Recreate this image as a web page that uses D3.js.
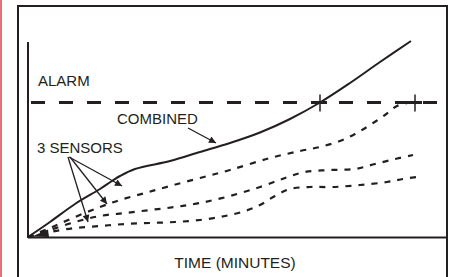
<!DOCTYPE html>
<html><head><meta charset="utf-8">
<script src="https://cdn.jsdelivr.net/npm/d3@7"></script>
<style>html,body{margin:0;padding:0;background:#fff;}svg{display:block;}</style>
</head><body>
<script>
// ---- data (time in minutes, signal in arbitrary units) ----
const combined = [[0,0],[2.2,1.5],[4.7,3.3],[7.2,4.8],[8.4,5.6],[9.2,6.1],[10.7,6.8],[14.2,7.6],[17.2,8.5],[20.2,9.4],[23.2,10.45],[26.2,11.8],[29.2,13.45],[32.2,15.4],[35.2,17.5],[38.3,19.6]];
const sensor1 = [[0,0],[2.2,0.9],[4.7,2.0],[7.2,3.0],[9.2,3.7],[11.7,4.4],[14.2,5.1],[17.2,5.9],[20.2,6.7],[24.2,7.9],[27.2,8.6],[29.2,9.0],[31.2,9.6],[32.7,10.3],[34.2,11.2],[35.7,12.2],[36.9,13.1],[38.5,13.5]];
const sensor2 = [[0,0],[2.2,0.7],[4.7,1.5],[7.2,2.1],[9.7,2.4],[12.2,2.7],[14.7,3.0],[17.2,3.4],[20.2,4.1],[23.2,5.0],[25.7,5.9],[27.7,6.5],[30.2,6.7],[32.7,6.8],[34.7,7.3],[36.7,7.8],[38.5,8.2]];
const sensor3 = [[0,0],[2.2,0.5],[4.7,0.9],[7.2,1.1],[9.7,1.3],[12.2,1.4],[14.7,1.5],[17.2,1.7],[19.7,2.1],[21.7,2.6],[23.2,3.2],[24.7,4.1],[26.2,4.8],[28.2,5.0],[30.5,5.0],[33.2,5.2],[35.9,5.5],[37.5,5.8],[38.9,6.0]];
const alarmLevel = 13.45;
const alarmSpan = [0.3, 41.2];
const alarmCrossings = [29.2, 38.7];
const labels = ["ALARM", "COMBINED", "3 SENSORS", "TIME (MINUTES)"];

const W = 449, H = 277;
const svg = d3.select("body").append("svg").attr("width", W).attr("height", H);

const x = d3.scaleLinear().domain([0, 42]).range([28, 448]);
const y = d3.scaleLinear().domain([0, 19.5]).range([237, 42]);

// left red strip and frame
svg.append("rect").attr("x",0).attr("y",0).attr("width",2).attr("height",H).attr("fill","#ef6b78");
svg.append("rect").attr("x",18).attr("y",6).attr("width",429).attr("height",H+10)
  .attr("fill","none").attr("stroke","#231f20").attr("stroke-width",2);

// axes
svg.append("line").attr("x1",x(0)).attr("x2",x(0)).attr("y1",y(19.5)).attr("y2",y(0)+1)
  .attr("stroke","#231f20").attr("stroke-width",2);
svg.append("line").attr("x1",x(0)).attr("x2",447).attr("y1",y(0)+0.5).attr("y2",y(0)+0.5)
  .attr("stroke","#231f20").attr("stroke-width",2);

const defs = svg.append("defs");
defs.append("marker").attr("id","ah").attr("viewBox","0 0 10 10").attr("refX",10).attr("refY",5)
  .attr("markerWidth",10).attr("markerHeight",7).attr("markerUnits","userSpaceOnUse").attr("orient","auto")
  .append("path").attr("d","M0,0 L10,5 L0,10 Z").attr("fill","#231f20");

const line = d3.line().x(d=>x(d[0])).y(d=>y(d[1])).curve(d3.curveCatmullRom);

// alarm line
svg.append("line").attr("x1",x(alarmSpan[0])).attr("x2",x(alarmSpan[1]))
  .attr("y1",y(alarmLevel)).attr("y2",y(alarmLevel))
  .attr("stroke","#231f20").attr("stroke-width",3).attr("stroke-dasharray","14,14");

// sensors
[sensor1, sensor2, sensor3].forEach(s => {
  svg.append("path").attr("d", line(s)).attr("fill","none").attr("stroke","#231f20")
    .attr("stroke-width",2.2).attr("stroke-dasharray","6,7");
});
// combined
svg.append("path").attr("d", line(combined)).attr("fill","none").attr("stroke","#231f20").attr("stroke-width",2);

// crossing markers
alarmCrossings.forEach(c => {
  const cx = x(c), cy = y(alarmLevel);
  svg.append("line").attr("x1",cx).attr("x2",cx).attr("y1",cy-8).attr("y2",cy+9).attr("stroke","#231f20").attr("stroke-width",1.5);
  svg.append("line").attr("x1",cx-7).attr("x2",cx+7).attr("y1",cy).attr("y2",cy).attr("stroke","#231f20").attr("stroke-width",3);
});

// origin arrowhead
svg.append("path").attr("d",`M${x(0.4)},${y(0.05)} L${x(2.0)},${y(0.75)} L${x(2.1)},${y(0.0)} Z`).attr("fill","#231f20");

// text
const font = "'Liberation Sans', Arial, sans-serif";
function txt(t, px, py){ svg.append("text").attr("x",px).attr("y",py).attr("font-family",font)
  .attr("font-size",15).attr("fill","#231f20").text(t); }
txt(labels[0], 38, 86);
txt(labels[1], 117, 124);
txt(labels[2], 37, 153);
svg.append("text").attr("x",235).attr("y",268).attr("text-anchor","middle").attr("font-family",font)
  .attr("font-size",15.5).attr("fill","#231f20").text(labels[3]);

// arrows
const arrows = [
  [[16.0,10.9],[18.8,9.4]],
  [[4.1,8.0],[9.4,5.1]],
  [[4.2,8.0],[7.9,3.3]],
  [[4.0,8.0],[6.0,1.5]]
];
arrows.forEach(a => {
  svg.append("line").attr("x1",x(a[0][0])).attr("y1",y(a[0][1])).attr("x2",x(a[1][0])).attr("y2",y(a[1][1]))
    .attr("stroke","#231f20").attr("stroke-width",1.3).attr("marker-end","url(#ah)");
});
</script>
</body></html>
